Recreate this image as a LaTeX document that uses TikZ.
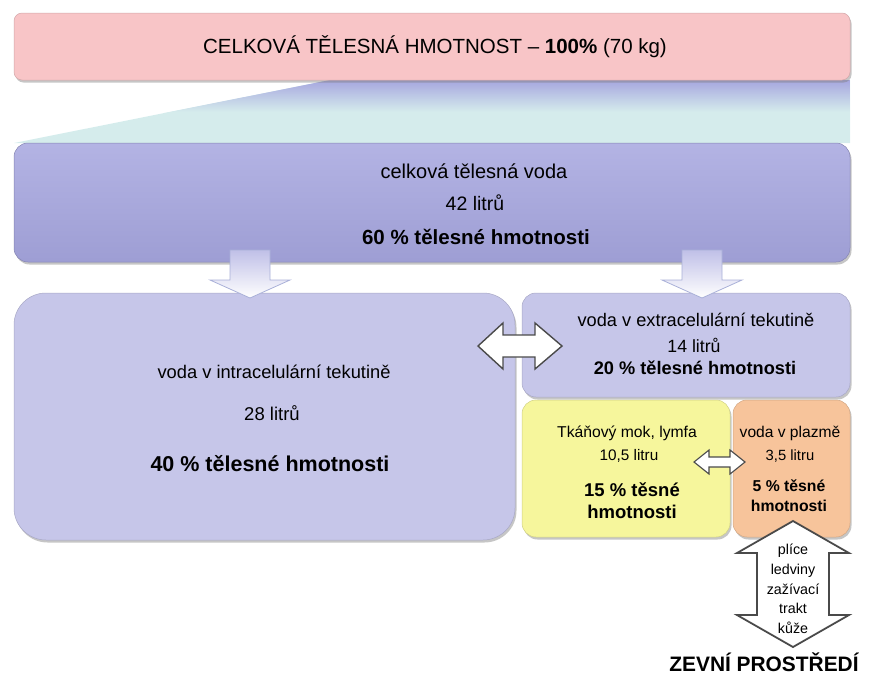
\documentclass[tikz,border=0pt]{standalone}
\usepackage{fontspec}
\setmainfont{Liberation Sans}
\usetikzlibrary{shadows, positioning}

\definecolor{pinkbox}{HTML}{F8C5C7}
\definecolor{bluebox}{HTML}{A6A6DF}
\definecolor{lavbox}{HTML}{C6C6E9}
\definecolor{yellowbox}{HTML}{F6F69C}
\definecolor{orangebox}{HTML}{F7C49B}
\definecolor{cyanband}{HTML}{D5ECEC}
\definecolor{arrowline}{HTML}{4A4A4A}
\definecolor{downline}{HTML}{A9B0D8}

\newcommand{\fsz}[1]{\fontsize{#1}{#1}\selectfont}

\begin{document}
\begin{tikzpicture}[x=1pt, y=-1pt,
    box/.style={inner sep=0pt, outer sep=0pt, rounded corners=14pt,
      drop shadow={opacity=0.45, shadow xshift=1.5pt, shadow yshift=-2.5pt}},
    txt/.style={inner sep=0pt, align=center, text=black},
    whitearrow/.style={fill=white, draw=arrowline, line width=1.4pt, line join=miter},
    downarrow/.style={top color=lavbox!80!bluebox, bottom color=white, draw=downline, line width=0.8pt}]
  \useasboundingbox (0,0) rectangle (885,675);

  % band between the two top boxes
  \fill[cyanband] (330,80) -- (850,80) -- (850,143) -- (14,143) -- cycle;
  \begin{scope}
    \clip (330,80) -- (850,80) -- (850,143) -- (14,143) -- cycle;
    \shade[top color=bluebox, bottom color=cyanband] (14,80) rectangle (850,112);
  \end{scope}

  % boxes
  \node[box, fill=pinkbox, draw=pinkbox!85!black, line width=0.5pt, rounded corners=8pt,
    minimum width=836, minimum height=67] (celek) at (432,46.5) {};
  \node[box, top color=bluebox!85!white, bottom color=bluebox!95!black, draw=bluebox!80!black, line width=0.5pt,
    minimum width=836, minimum height=119] (voda) at (432,202.5) {};
  \node[box, fill=lavbox, draw=lavbox!85!black, line width=0.5pt, rounded corners=32pt,
    minimum width=501, minimum height=247] (intra) at (264.5,416.5) {};
  \node[box, fill=lavbox, draw=lavbox!85!black, line width=0.5pt,
    minimum width=328, minimum height=104] (extra) at (686,345) {};
  \node[box, fill=yellowbox, draw=yellowbox!85!black, line width=0.5pt,
    minimum width=208, minimum height=137] (mok) at (626,468.5) {};
  \node[box, fill=orangebox, draw=orangebox!85!black, line width=0.5pt,
    minimum width=117, minimum height=137] (plazma) at (791.5,468.5) {};

  % arrows down
  \foreach \ax in {250,702}
    \draw[downarrow] (\ax-20,250) -- (\ax+20,250) -- (\ax+20,280) -- (\ax+40,280)
      -- (\ax,298) -- (\ax-40,280) -- (\ax-20,280) -- cycle;

  % double arrows
  \draw[whitearrow] (478,346) -- (503,323) -- (503,335) -- (535,335) -- (535,323) -- (562,346)
    -- (535,369) -- (535,357) -- (503,357) -- (503,369) -- cycle;
  \draw[whitearrow, line width=1.1pt] (694,462) -- (709,450) -- (709,457) -- (730,457) -- (730,450) -- (745,462)
    -- (730,474) -- (730,467) -- (709,467) -- (709,474) -- cycle;
  \draw[whitearrow, line width=1.8pt] (793,521) -- (849,553) -- (829,553) -- (829,615) -- (849,615) -- (793,647)
    -- (737,615) -- (757,615) -- (757,553) -- (737,553) -- cycle;

  % texts
  \node[txt, font=\fsz{20.5}] (celekT) at (435,47) {CELKOVÁ TĚLESNÁ HMOTNOST – \textbf{100\%} (70 kg)};

  \node[txt, font=\fsz{20}] (vodaA) at (474,171) {celková tělesná voda};
  \node[txt, font=\fsz{19.5}] (vodaB) at (475,203) {42 litrů};
  \node[txt, font=\bfseries\fsz{20.5}] (vodaC) at (476,237) {60 \% tělesné hmotnosti};

  \node[txt, font=\fsz{18.3}] (intraA) at (274,372) {voda v intracelulární tekutině};
  \node[txt, font=\fsz{18.5}] (intraB) at (272,413) {28 litrů};
  \node[txt, font=\bfseries\fsz{21.5}] (intraC) at (270,464) {40 \% tělesné hmotnosti};

  \node[txt, font=\fsz{18.2}] (extraA) at (696,320) {voda v extracelulární tekutině};
  \node[txt, font=\fsz{17.7}] (extraB) at (694,345) {14 litrů};
  \node[txt, font=\bfseries\fsz{18.2}] (extraC) at (695,368) {20 \% tělesné hmotnosti};

  \node[txt, font=\fsz{15.7}] (mokA) at (627,433) {Tkáňový mok, lymfa};
  \node[txt, font=\fsz{15.3}] (mokB) at (629,456) {10,5 litru};
  \node[txt, font=\fontsize{18.5}{22}\bfseries\selectfont] (mokC) at (632,501) {15 \% těsné\\hmotnosti};

  \node[txt, font=\fsz{15.6}] (plazmaA) at (790,433) {voda v plazmě};
  \node[txt, font=\fsz{14.8}] (plazmaB) at (790,456) {3,5 litru};
  \node[txt, font=\fontsize{15.75}{20}\bfseries\selectfont] (plazmaC) at (789,496) {5 \% těsné\\hmotnosti};

  \node[txt, font=\fontsize{14.3}{19.75}\selectfont] (organy) at (793,589) {plíce\\ledviny\\zažívací\\trakt\\kůže};

  \node[txt, font=\bfseries\fsz{20.9}] (zevni) at (764,662) {ZEVNÍ PROSTŘEDÍ};
\end{tikzpicture}
\end{document}
